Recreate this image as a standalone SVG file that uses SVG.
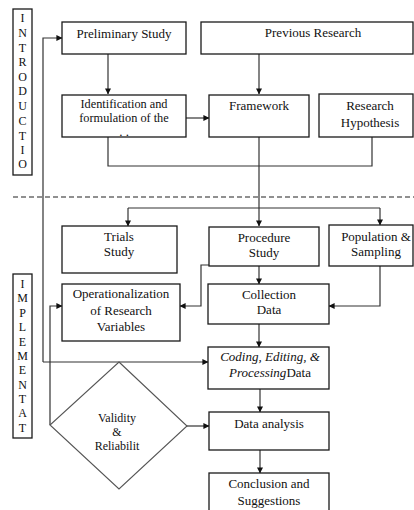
<svg xmlns="http://www.w3.org/2000/svg" width="414" height="510" viewBox="0 0 414 510" font-family="'Liberation Serif', 'DejaVu Serif', serif">
<style>
.box{fill:#fff;stroke:#1a1a1a;stroke-width:1.3}
.ln{fill:none;stroke:#333;stroke-width:1.2}
text{font-family:'Liberation Serif','DejaVu Serif',serif;font-size:13px;fill:#111;text-anchor:middle}
.v{font-size:12px}
.s{font-size:12.3px}
.it{font-style:italic}
</style>
<defs>
<marker id="ah" viewBox="0 0 8 8" refX="7.5" refY="4" markerWidth="6" markerHeight="6" orient="auto" markerUnits="userSpaceOnUse">
<path d="M0,0 L8,4 L0,8 z" fill="#111"/>
</marker>
</defs>
<rect width="414" height="510" fill="#fff"/>

<g id="connectors">
<line x1="13" y1="197" x2="414" y2="197" stroke="#222" stroke-width="1.1" stroke-dasharray="5,3"/>
<path class="ln" d="M108 54 V94" marker-end="url(#ah)"/>
<path class="ln" d="M259 54 V94" marker-end="url(#ah)"/>
<path class="ln" d="M186 118 H209" marker-end="url(#ah)"/>
<path class="ln" d="M108 137 V166 H372 V137"/>
<path class="ln" d="M259 137 V226" marker-end="url(#ah)"/>
<path class="ln" d="M128 208 H380"/>
<path class="ln" d="M380 208 V225" marker-end="url(#ah)"/>
<path class="ln" d="M128 208 V226" marker-end="url(#ah)"/>
<path class="ln" d="M259 266 V284" marker-end="url(#ah)"/>
<path class="ln" d="M380 266 V306 H329" marker-end="url(#ah)"/>
<path class="ln" d="M209 265 H201 V306 H180" marker-end="url(#ah)"/>
<path class="ln" d="M259 324 V347" marker-end="url(#ah)"/>
<path class="ln" d="M43 362 V38 H62" marker-end="url(#ah)"/>
<path class="ln" d="M43 362 H208" marker-end="url(#ah)"/>
<path class="ln" d="M50 425 V306 H62" marker-end="url(#ah)"/>
<path class="ln" d="M187 426 H209" marker-end="url(#ah)"/>
<path class="ln" d="M260 389 V412" marker-end="url(#ah)"/>
<path class="ln" d="M260 450 V473" marker-end="url(#ah)"/>
</g>

<g id="introductio">
<rect class="box" x="13" y="9" width="19" height="166"/>
<text class="v" x="22.5" y="22">I</text><text class="v" x="22.5" y="37">N</text><text class="v" x="22.5" y="52">T</text><text class="v" x="22.5" y="66">R</text><text class="v" x="22.5" y="81">O</text><text class="v" x="22.5" y="95">D</text><text class="v" x="22.5" y="110">U</text><text class="v" x="22.5" y="125">C</text><text class="v" x="22.5" y="140">T</text><text class="v" x="22.5" y="154">I</text><text class="v" x="22.5" y="168">O</text>
</g>

<g id="implementat">
<rect class="box" x="13" y="274" width="19" height="164"/>
<text class="v" x="22.5" y="288">I</text><text class="v" x="22.5" y="302">M</text><text class="v" x="22.5" y="317">P</text><text class="v" x="22.5" y="331">L</text><text class="v" x="22.5" y="346">E</text><text class="v" x="22.5" y="360">M</text><text class="v" x="22.5" y="374">E</text><text class="v" x="22.5" y="389">N</text><text class="v" x="22.5" y="403">T</text><text class="v" x="22.5" y="417">A</text><text class="v" x="22.5" y="432">T</text>
</g>

<g id="preliminary">
<rect class="box" x="62" y="22" width="124" height="32"/>
<text x="124" y="38">Preliminary Study</text>
</g>

<g id="previous">
<rect class="box" x="201" y="22" width="212" height="32"/>
<text x="313" y="37">Previous Research</text>
</g>

<g id="identification">
<rect class="box" x="62" y="95" width="124" height="42"/>
<text class="s" x="124" y="108">Identification and</text>
<text class="s" x="124" y="122">formulation of the</text>
<text x="124" y="136" font-size="5">. .</text>
</g>

<g id="framework">
<rect class="box" x="209" y="95" width="100" height="42"/>
<text x="259" y="110">Framework</text>
</g>

<g id="hypothesis">
<rect class="box" x="319" y="94" width="94" height="43"/>
<text x="370" y="110">Research</text>
<text x="370" y="127">Hypothesis</text>
</g>

<g id="trials">
<rect class="box" x="62" y="226" width="115" height="47"/>
<text x="119" y="241">Trials</text>
<text x="119" y="256">Study</text>
</g>

<g id="procedure">
<rect class="box" x="209" y="227" width="110" height="39"/>
<text x="264" y="242">Procedure</text>
<text x="264" y="257">Study</text>
</g>

<g id="population">
<rect class="box" x="329" y="225" width="84" height="41"/>
<text x="376" y="241">Population &amp;</text>
<text x="376" y="256">Sampling</text>
</g>

<g id="operationalization">
<rect class="box" x="62" y="284" width="118" height="57"/>
<text x="121" y="298">Operationalization</text>
<text x="121" y="315">of Research</text>
<text x="121" y="331">Variables</text>
</g>

<g id="collection">
<rect class="box" x="208" y="284" width="121" height="40"/>
<text x="269" y="299">Collection</text>
<text x="269" y="314">Data</text>
</g>

<g id="coding">
<rect class="box" x="208" y="347" width="121" height="42"/>
<text x="270" y="361" class="it">Coding, Editing, &amp;</text>
<text x="270" y="377"><tspan class="it">Processing</tspan>Data</text>
</g>

<g id="validity">
<polygon points="119,362 187,426 119,489 50,425" fill="#fff" stroke="#555" stroke-width="1.1"/>
<text class="v" x="117" y="422">Validity</text>
<text class="v" x="117" y="436">&amp;</text>
<text class="v" x="117" y="450">Reliabilit</text>
</g>

<g id="analysis">
<rect class="box" x="209" y="412" width="120" height="38"/>
<text x="269" y="428">Data analysis</text>
</g>

<g id="conclusion">
<rect class="box" x="209" y="473" width="120" height="45"/>
<text x="269" y="488">Conclusion and</text>
<text x="269" y="505">Suggestions</text>
</g>
</svg>
